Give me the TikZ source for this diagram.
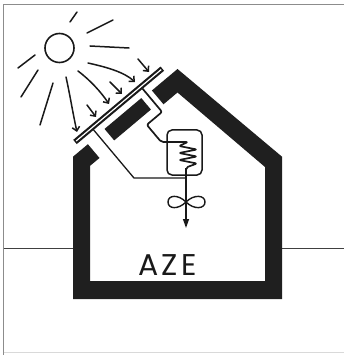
\documentclass[tikz,border=0pt]{standalone}
\usepackage{fontspec}
\newfontfamily\labelfont{Poppins}
\usetikzlibrary{arrows.meta}
\begin{document}
\begin{tikzpicture}[x=1pt,y=-1pt,
  wall/.style={fill=black!88,draw=none},
  ray/.style={line width=1.5pt,line cap=round,draw=black!90},
  beam/.style={ray,-{Straight Barb[length=4pt,width=7.5pt]}},
  pipe/.style={line width=1.3pt,draw=black!90,line join=round},
  frameline/.style={draw=black!45,line width=1pt},
  ground/.style={draw=black!75,line width=0.9pt}]
\useasboundingbox (0,0) rectangle (344,355);

% frame
\coordinate (fbl) at (3.5,355);
\coordinate (ftl) at (3.5,5);
\coordinate (ftr) at (344,5);
\coordinate (fbl2) at (3.5,352);
\coordinate (fbr) at (344,352);
\draw[frameline] (fbl) -- (ftl) -- (ftr);
\draw[draw=black!15,line width=0.8pt] (fbl2) -- (fbr);

% ground line on both sides of the house
\coordinate (gl0) at (3.5,248.5);
\coordinate (gl1) at (73,248.5);
\coordinate (gr0) at (282,248.5);
\coordinate (gr1) at (344,248.5);
\draw[ground] (gl0) -- (gl1);
\draw[ground] (gr0) -- (gr1);

% house walls, the south roof left open for the collector
\fill[wall] (87.9,144.2) -- (73,156.7) -- (73,299) -- (282,299) -- (282,156.7)
  -- (177.5,69) -- (151.9,90.5) -- (163.5,104.3) -- (177.5,92.5) -- (265,167)
  -- (265,281) -- (90,281) -- (90,165.9) -- (99.5,158) -- cycle;

% frame aligned with the south roof slope (u along the roof, v inwards)
\begin{scope}[shift={(73,156.7)}, x={(0.766pt,0.643pt)}, y={(0.643pt,-0.766pt)}]
  \coordinate (c1) at (11,-10);
  \coordinate (c2) at (125,-10);
  \fill[black!88] (42,-1) -- (90,-1) -- (90,14) -- (42,14) -- cycle;
  \coordinate (up0) at (97,-7.5);
  \coordinate (up1) at (97,23);
  \coordinate (up2) at (77,23);
  \coordinate (up3) at (77,45.4);
  \coordinate (lo0) at (33,-7.5);
  \coordinate (lo1) at (33,55.5);
\end{scope}

% glazed collector
\draw[line width=5.5pt,black!90] (c1) -- (c2);
\draw[line width=1.2pt,white,shorten <=1.5pt,shorten >=1.5pt] (c1) -- (c2);

% storage tank
\node[draw=black!90,line width=1.5pt,rounded corners=5pt,minimum width=35pt,
  minimum height=45pt,inner sep=0pt] (tank) at (184.5,152.5) {};
\coordinate (tx) at (188,0);
\coordinate (sx) at (186,0);

% flow pipe with heat exchanger coil
\draw[pipe,rounded corners=2pt,line width=1.7pt] (up0) -- (up1) -- (up2) -- (up3) -- (up3 -| tx)
  -- (179,146) -- (197,149.5) -- (179,153) -- (197,156.5) -- (179,160)
  -- (197,163.5) -- (186,167.5) -- (186,170);
% return pipe
\draw[pipe] (lo0) -- (lo1) -- (lo1 -| sx);

% outlet with fan and arrow
\coordinate (st0) at (186,168);
\coordinate (st1) at (186,228);
\draw[pipe,-{Triangle[length=9pt,width=6pt]}] (st0) -- (st1);
\coordinate (fan) at (186,202);
\draw[pipe,line width=1.4pt] (fan) .. controls (178,194) and (168,195) .. (168,202)
  .. controls (168,209) and (178,210) .. (fan)
  .. controls (194,194) and (205,195) .. (205,202)
  .. controls (205,209) and (194,210) .. (fan);

% label
\node[font=\labelfont\fontsize{30}{30}\selectfont,text=black!90,inner sep=0pt] (label)
  at (167.5,265) {A\hspace{3pt}Z\hspace{3pt}E};

% sun
\node[circle,draw=black!90,line width=1.6pt,minimum size=29pt,inner sep=0pt] (sun) at (59.5,48) {};

% plain rays
\coordinate (ra0) at (70,22);  \coordinate (ra1) at (77,12);
\coordinate (rb0) at (87,33);  \coordinate (rb1) at (113,20);
\coordinate (rc0) at (90,46);  \coordinate (rc1) at (129,48);
\coordinate (ri0) at (35,55);  \coordinate (ri1) at (18,68);
\coordinate (rh0) at (38,70);  \coordinate (rh1) at (21,97);
\coordinate (rg0) at (53,83);  \coordinate (rg1) at (40,125);
\draw[ray] (ra0) -- (ra1);
\draw[ray] (rb0) -- (rb1);
\draw[ray] (rc0) -- (rc1);
\draw[ray] (ri0) -- (ri1);
\draw[ray] (rh0) -- (rh1);
\draw[ray] (rg0) -- (rg1);

% rays reaching the collector
\coordinate (rd0) at (88,63);  \coordinate (rd1) at (135,82);
\coordinate (re0) at (78,71);  \coordinate (re1) at (109,104);
\coordinate (rf0) at (66,77);  \coordinate (rf1) at (77,132);
\coordinate (rj0) at (110,82); \coordinate (rj1) at (122,94);
\coordinate (rk0) at (87,105); \coordinate (rk1) at (96,117);
\coordinate (rl0) at (138,59); \coordinate (rl1) at (149,72);
\draw[beam] (rd0) .. controls (106,67) and (124,72) .. (rd1);
\draw[beam] (re0) .. controls (90,80) and (101,92) .. (re1);
\draw[beam] (rf0) .. controls (70,95) and (73,114) .. (rf1);
\draw[beam] (rj0) -- (rj1);
\draw[beam] (rk0) -- (rk1);
\draw[beam] (rl0) -- (rl1);
\end{tikzpicture}
\end{document}
